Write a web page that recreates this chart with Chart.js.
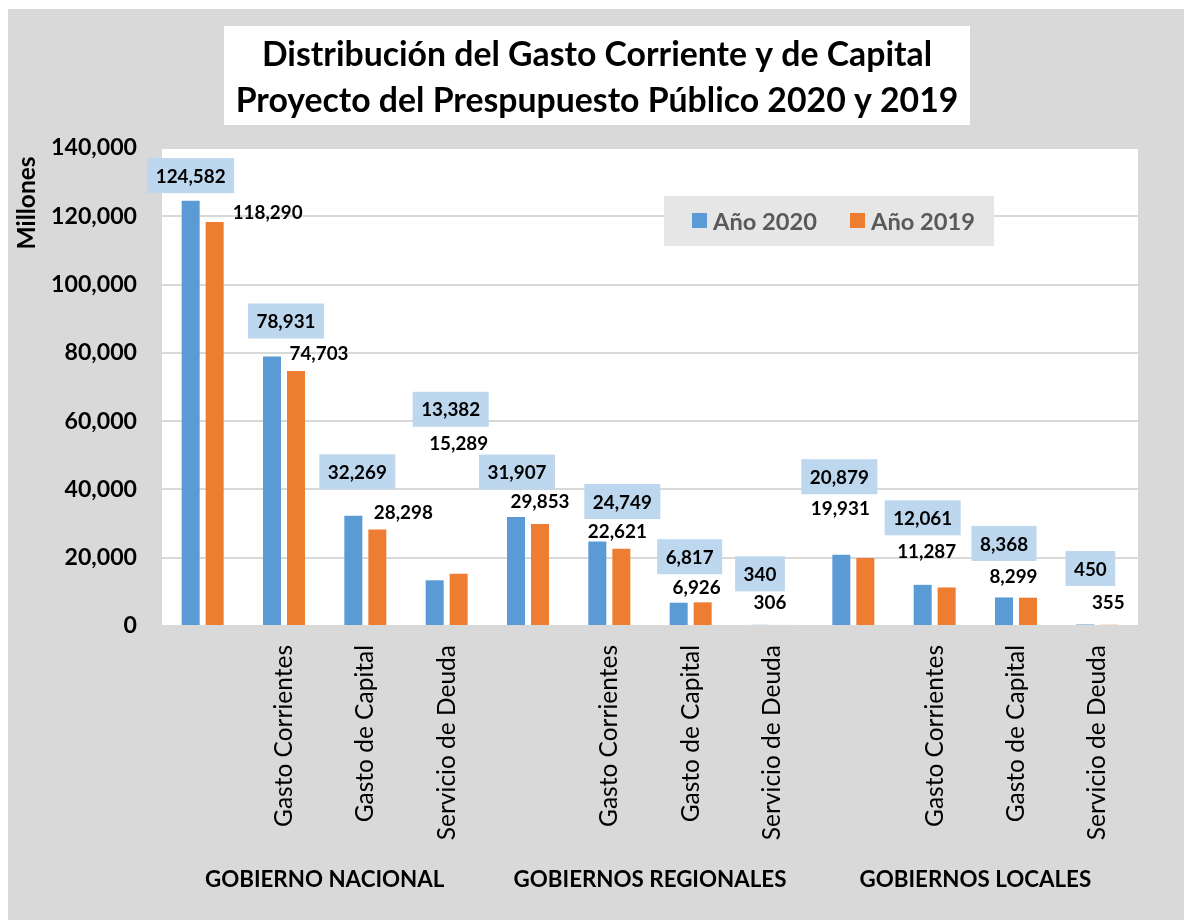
<!DOCTYPE html>
<html><head><meta charset="utf-8">
<script src="https://cdn.jsdelivr.net/npm/chart.js@4/dist/chart.umd.min.js"></script>
<style>html,body{margin:0;padding:0;background:#fff}#wrap{width:1184px;height:920px;position:relative}</style>
</head><body><div id="wrap"><canvas id="c" width="1184" height="920"></canvas></div>
<script>
const titleLines = ['Distribución del Gasto Corriente y de Capital', 'Proyecto del Prespupuesto Público 2020 y 2019'];
const groups = ['GOBIERNO NACIONAL', 'GOBIERNOS REGIONALES', 'GOBIERNOS LOCALES'];
const categories = ['', 'Gasto Corrientes', 'Gasto de Capital', 'Servicio de Deuda',
                    '', 'Gasto Corrientes', 'Gasto de Capital', 'Servicio de Deuda',
                    '', 'Gasto Corrientes', 'Gasto de Capital', 'Servicio de Deuda'];
const seriesNames = ['Año 2020', 'Año 2019'];
const values2020 = [124582, 78931, 32269, 13382, 31907, 24749, 6817, 340, 20879, 12061, 8368, 450];
const values2019 = [118290, 74703, 28298, 15289, 29853, 22621, 6926, 306, 19931, 11287, 8299, 355];
const yTicks = [0, 20000, 40000, 60000, 80000, 100000, 120000, 140000];
const yAxisTitle = 'Millones';

// label placement shifts (px) relative to bar centre / bar top, as placed in the original
const labelShift2020 = [[0,-25],[14,-35.5],[4,-44],[16,-171],[1,-45],[25,-40],[11,-46],[0,-51],[-2,-78],[0,-67],[0,-54],[5,-56]];
const labelShift2019 = [[53,-10],[23,-18],[26,-17],[0,-131],[0,-23],[-4,-18],[-6,-15],[-14,-23],[-25,-50],[-20,-36.5],[-14.5,-22],[-1,-23]];

const FAMILY = "Lato, 'Open Sans', 'DejaVu Sans', sans-serif";
const mctx = document.createElement('canvas').getContext('2d');
function fit(text, width, weight) {
  mctx.font = weight + ' 100px ' + FAMILY;
  return 100 * width / mctx.measureText(text).width;
}
const titleSize = fit(titleLines[1], 723, 'bold');
const yTickSize = fit('140,000', 86, 'bold');
const dataSize = fit('124,582', 70, 'bold');
const catSize = fit('Gasto Corrientes', 182, 'normal');
const groupSize = fit('GOBIERNOS REGIONALES', 273, 'bold');
const legendSize = fit('Año 2020', 104, 'bold');
const axisTitleSize = fit('Millones', 93, 'bold');

const fmt = v => Number(v).toLocaleString('en-US');
const COLORS = ['#5b9bd5', '#ed7d31'];

const decor = {
  id: 'decor',
  beforeDraw(chart) {
    const ctx = chart.ctx, a = chart.chartArea;
    ctx.save();
    ctx.fillStyle = '#ffffff'; ctx.fillRect(0, 0, chart.width, chart.height);
    ctx.fillStyle = '#d9d9d9'; ctx.fillRect(8, 9, chart.width - 8, chart.height - 9);
    ctx.fillStyle = '#ffffff'; ctx.fillRect(a.left, a.top - 1, a.right - a.left, a.bottom - a.top + 1);
    // title box
    ctx.fillRect(224, 26, 746, 99);
    ctx.fillStyle = '#000';
    ctx.font = 'bold ' + titleSize + 'px ' + FAMILY;
    ctx.textAlign = 'center'; ctx.textBaseline = 'middle';
    ctx.fillText(titleLines[0], 597, 55);
    ctx.fillText(titleLines[1], 597, 101);
    ctx.restore();
  },
  afterDatasetsDraw(chart) {
    const ctx = chart.ctx;
    const m0 = chart.getDatasetMeta(0), m1 = chart.getDatasetMeta(1);
    ctx.save();
    ctx.font = 'bold ' + dataSize + 'px ' + FAMILY;
    ctx.textAlign = 'center'; ctx.textBaseline = 'middle';
    m0.data.forEach((bar, i) => {
      const t = fmt(values2020[i]);
      const cx = bar.x + labelShift2020[i][0], cy = bar.y + labelShift2020[i][1];
      const w = ctx.measureText(t).width;
      ctx.fillStyle = '#bdd7ee';
      ctx.fillRect(cx - w / 2 - 8.5, cy - 17.5, w + 17, 35);
      ctx.fillStyle = '#000';
      ctx.fillText(t, cx, cy + 1);
    });
    m1.data.forEach((bar, i) => {
      const t = fmt(values2019[i]);
      ctx.fillStyle = '#000';
      ctx.fillText(t, bar.x + labelShift2019[i][0], bar.y + labelShift2019[i][1] + 1);
    });
    ctx.restore();
  },
  afterDraw(chart) {
    const ctx = chart.ctx, xs = chart.scales.x;
    ctx.save();
    // legend
    ctx.fillStyle = '#e7e6e6'; ctx.fillRect(664, 196, 330, 50);
    ctx.font = 'bold ' + legendSize + 'px ' + FAMILY;
    ctx.textAlign = 'left'; ctx.textBaseline = 'middle';
    const lx = [692, 850];
    chart.data.datasets.forEach((ds, k) => {
      ctx.fillStyle = ds.backgroundColor; ctx.fillRect(lx[k], 213, 15, 15);
      ctx.fillStyle = '#595959'; ctx.fillText(ds.label, lx[k] + 21, 222);
    });
    // y axis title
    ctx.fillStyle = '#000';
    ctx.font = 'bold ' + axisTitleSize + 'px ' + FAMILY;
    ctx.translate(27, 203); ctx.rotate(-Math.PI / 2);
    ctx.textAlign = 'center'; ctx.fillText(yAxisTitle, 0, 0);
    ctx.setTransform(1, 0, 0, 1, 0, 0);
    // group labels
    ctx.font = 'bold ' + groupSize + 'px ' + FAMILY;
    ctx.textAlign = 'center'; ctx.textBaseline = 'middle';
    groups.forEach((g, k) => {
      const x = (xs.getPixelForValue(4 * k) + xs.getPixelForValue(4 * k + 3)) / 2;
      ctx.fillText(g, x, 880);
    });
    ctx.restore();
  }
};

new Chart(document.getElementById('c'), {
  type: 'bar',
  data: {
    labels: categories,
    datasets: [
      { label: seriesNames[0], data: values2020, backgroundColor: COLORS[0], borderWidth: 0, barPercentage: 0.75, categoryPercentage: 0.59 },
      { label: seriesNames[1], data: values2019, backgroundColor: COLORS[1], borderWidth: 0, barPercentage: 0.75, categoryPercentage: 0.59 }
    ]
  },
  options: {
    responsive: false,
    animation: false,
    layout: { padding: { left: 8, right: 46, top: 148, bottom: 0 } },
    plugins: { legend: { display: false }, tooltip: { enabled: false }, title: { display: false } },
    scales: {
      x: {
        grid: { display: false, drawTicks: false },
        border: { display: false },
        ticks: { minRotation: 90, maxRotation: 90, autoSkip: false, padding: 19, color: '#000',
                 font: { family: FAMILY, size: catSize, weight: 'normal' } },
        afterFit(s) { s.height = 294; }
      },
      y: {
        min: yTicks[0], max: yTicks[yTicks.length - 1],
        afterBuildTicks(s) { s.ticks = yTicks.map(v => ({ value: v })); },
        grid: { color: '#d9d9d9', lineWidth: 2, drawTicks: false },
        border: { display: false },
        ticks: { padding: 25, color: '#000', callback: v => fmt(v),
                 font: { family: FAMILY, size: yTickSize, weight: 'bold' } },
        afterFit(s) { s.width = 154; }
      }
    }
  },
  plugins: [decor]
});
</script></body></html>
